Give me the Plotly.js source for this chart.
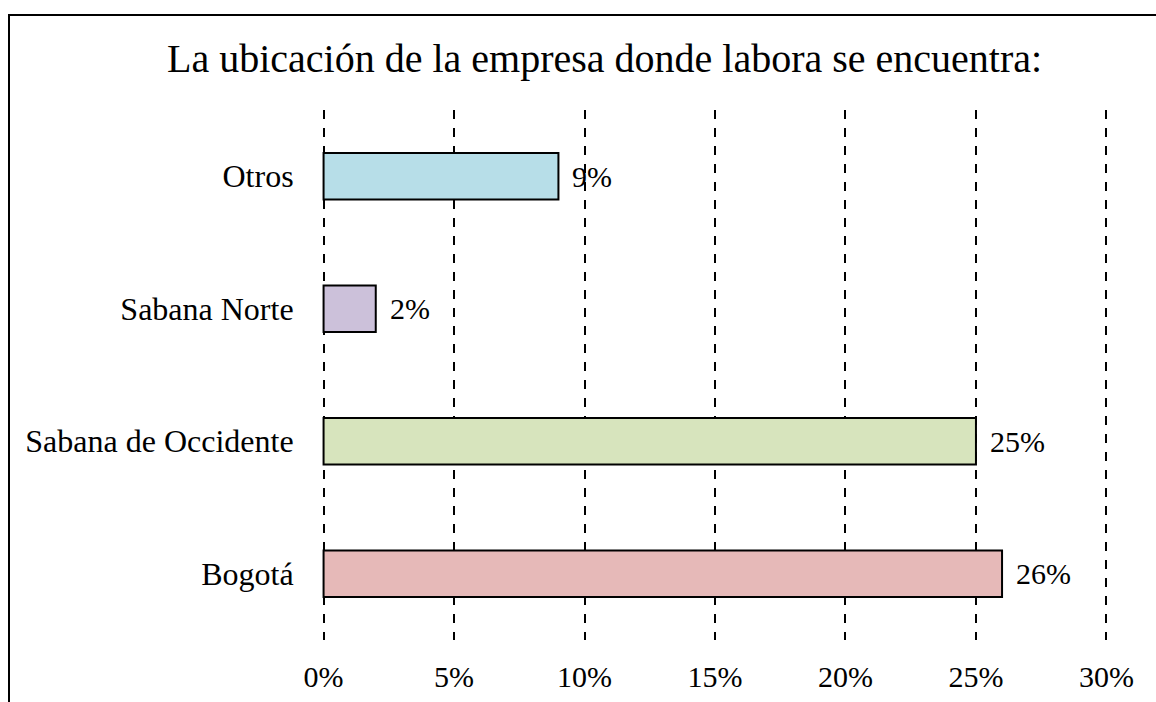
<!DOCTYPE html>
<html>
<head>
<meta charset="utf-8">
<script src="https://cdn.plot.ly/plotly-3.0.1.min.js"></script>
<style>
html,body{margin:0;padding:0;background:#fff;}
#wrap{position:relative;width:1156px;height:702px;}
#chart{width:1156px;height:702px;}
#frame{position:absolute;left:8px;top:14px;width:1200px;height:800px;border-left:2px solid #000;border-top:2px solid #000;pointer-events:none;}
</style>
</head>
<body>
<div id="wrap"><div id="chart"></div><div id="frame"></div></div>
<script>
const categories = ["Bogotá", "Sabana de Occidente", "Sabana Norte", "Otros"];
const values = [26, 25, 2, 9];
const colors = ["#E6B9B8", "#D7E4BD", "#CCC1DA", "#B7DEE8"];
const tickVals = [0, 5, 10, 15, 20, 25, 30];
const tickText = ["0%", "5%", "10%", "15%", "20%", "25%", "30%"];
const titleText = "La ubicación de la empresa donde labora se encuentra:";

const font = "Liberation Serif, Times New Roman, serif";

const trace = {
  type: "bar",
  orientation: "h",
  y: categories,
  x: values,
  width: 0.35,
  marker: {color: colors, line: {color: "#000", width: 2}},
  hoverinfo: "none"
};

const annotations = categories.map((c, i) => ({
  x: values[i], y: c, xref: "x", yref: "y",
  text: values[i] + "%", showarrow: false,
  xanchor: "left", yanchor: "middle", xshift: 12,
  font: {family: font, size: 30, color: "#000"}
}));

const layout = {
  width: 1156, height: 702,
  margin: {l: 322, r: 48, t: 110, b: 62},
  paper_bgcolor: "#fff", plot_bgcolor: "#fff",
  showlegend: false,
  title: {text: titleText, x: 0.523, xanchor: "center", y: 0.917, yanchor: "middle",
          font: {family: font, size: 40, color: "#000"}},
  xaxis: {range: [-0.06, 30.06], tickvals: tickVals, ticktext: tickText,
          showgrid: true, gridcolor: "#000", gridwidth: 2, griddash: "dash",
          zeroline: false, showline: false,
          ticks: "outside", ticklen: 10, tickcolor: "rgba(0,0,0,0)",
          tickfont: {family: font, size: 30, color: "#000"}, fixedrange: true},
  yaxis: {categoryorder: "array", categoryarray: categories,
          showgrid: false, zeroline: false, showline: false,
          ticks: "outside", ticklen: 21, tickcolor: "rgba(0,0,0,0)",
          tickfont: {family: font, size: 32, color: "#000"}, fixedrange: true},
  annotations: annotations
};

Plotly.newPlot("chart", [trace], layout, {displayModeBar: false, staticPlot: true});
</script>
</body>
</html>
